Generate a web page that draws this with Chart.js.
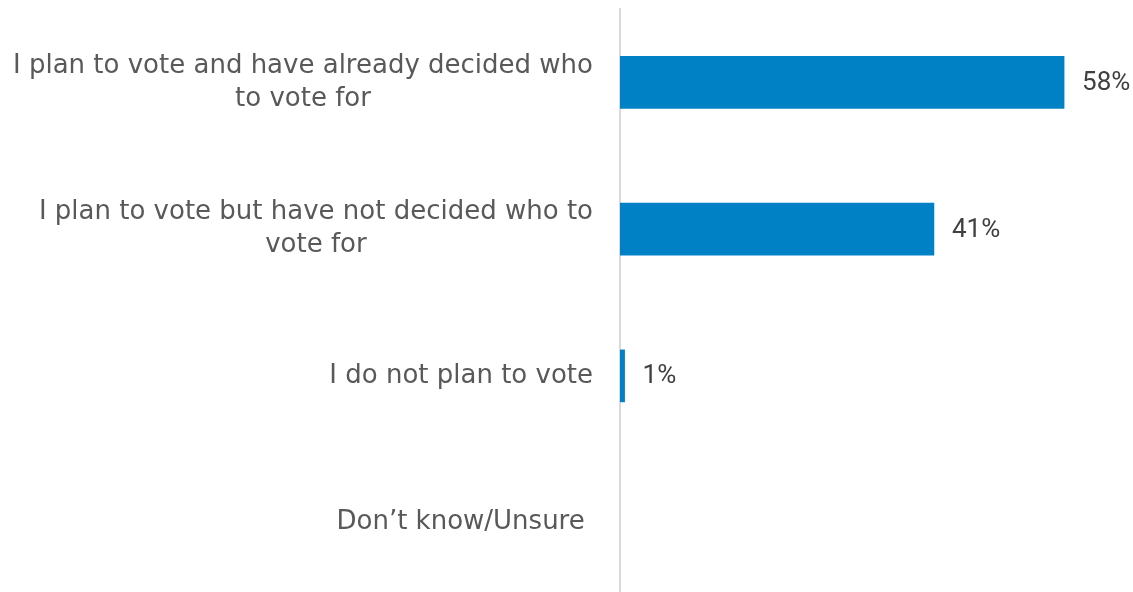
<!DOCTYPE html>
<html>
<head>
<meta charset="utf-8">
<script src="https://cdn.jsdelivr.net/npm/chart.js@4"></script>
<style>
  html, body { margin: 0; padding: 0; background: #fff; overflow: hidden; }
  #wrap { width: 1133px; height: 596px; position: relative; }
</style>
</head>
<body>
<div id="wrap"><canvas id="voteChart"></canvas></div>
<script>
// categories (each entry = lines of the label)
const categories = [
    ["I plan to vote and have already decided who", "to vote for"],
    ["I plan to vote but have not decided who to", "vote for"],
    ["I do not plan to vote"],
    ["Don\u2019t know/Unsure "]
];
// share of respondents, %
const shares = [58, 41, 0.6, 0];
const axisMax = 67;

// category labels drawn right-aligned as a block, lines centered inside it
const categoryLabels = {
    id: "categoryLabels",
    afterDraw(chart) {
        const ctx = chart.ctx;
        const yScale = chart.scales.y;
        const right = chart.chartArea.left - 27;
        const lineH = 33;
        ctx.save();
        ctx.font = "26px 'DejaVu Sans'";
        ctx.fillStyle = "#595959";
        ctx.textAlign = "center";
        ctx.textBaseline = "middle";
        categories.forEach((lines, i) => {
            const cy = yScale.getPixelForValue(i);
            const widest = Math.max(...lines.map(l => ctx.measureText(l).width));
            const cx = right - widest / 2;
            const top = cy - (lines.length - 1) * lineH / 2;
            lines.forEach((l, j) => ctx.fillText(l, cx, top + j * lineH));
        });
        ctx.restore();
    }
};

// value labels to the right of each bar
const valueLabels = {
    id: "valueLabels",
    afterDatasetsDraw(chart) {
        const ctx = chart.ctx;
        const meta = chart.getDatasetMeta(0);
        ctx.save();
        ctx.font = "26px Roboto";
        ctx.fillStyle = "#404040";
        ctx.textAlign = "left";
        ctx.textBaseline = "middle";
        meta.data.forEach((bar, i) => {
            if (shares[i] > 0) {
                ctx.fillText(Math.round(shares[i]) + "%", bar.x + 18, bar.y + 1);
            }
        });
        ctx.restore();
    }
};

const ctx = document.getElementById("voteChart").getContext("2d");
new Chart(ctx, {
    type: "bar",
    data: {
        labels: categories.map(c => c.join(" ")),
        datasets: [{
            data: shares,
            backgroundColor: c => (c.raw > 0 ? "#0081C6" : "rgba(0,0,0,0)"),
            barThickness: 52,
        }]
    },
    options: {
        indexAxis: "y",
        responsive: true,
        maintainAspectRatio: false,
        animation: false,
        layout: { padding: { top: 9, right: 0, bottom: 0, left: 0 } },
        plugins: {
            legend: { display: false },
            tooltip: { enabled: false }
        },
        scales: {
            x: {
                display: false,
                min: 0,
                max: axisMax
            },
            y: {
                grid: { display: false, drawTicks: false },
                border: { display: true, color: "#d9d9d9", width: 2 },
                ticks: { display: false },
                afterFit(scale) {
                    scale.width = 620;
                }
            }
        }
    },
    plugins: [categoryLabels, valueLabels]
});
</script>
</body>
</html>
